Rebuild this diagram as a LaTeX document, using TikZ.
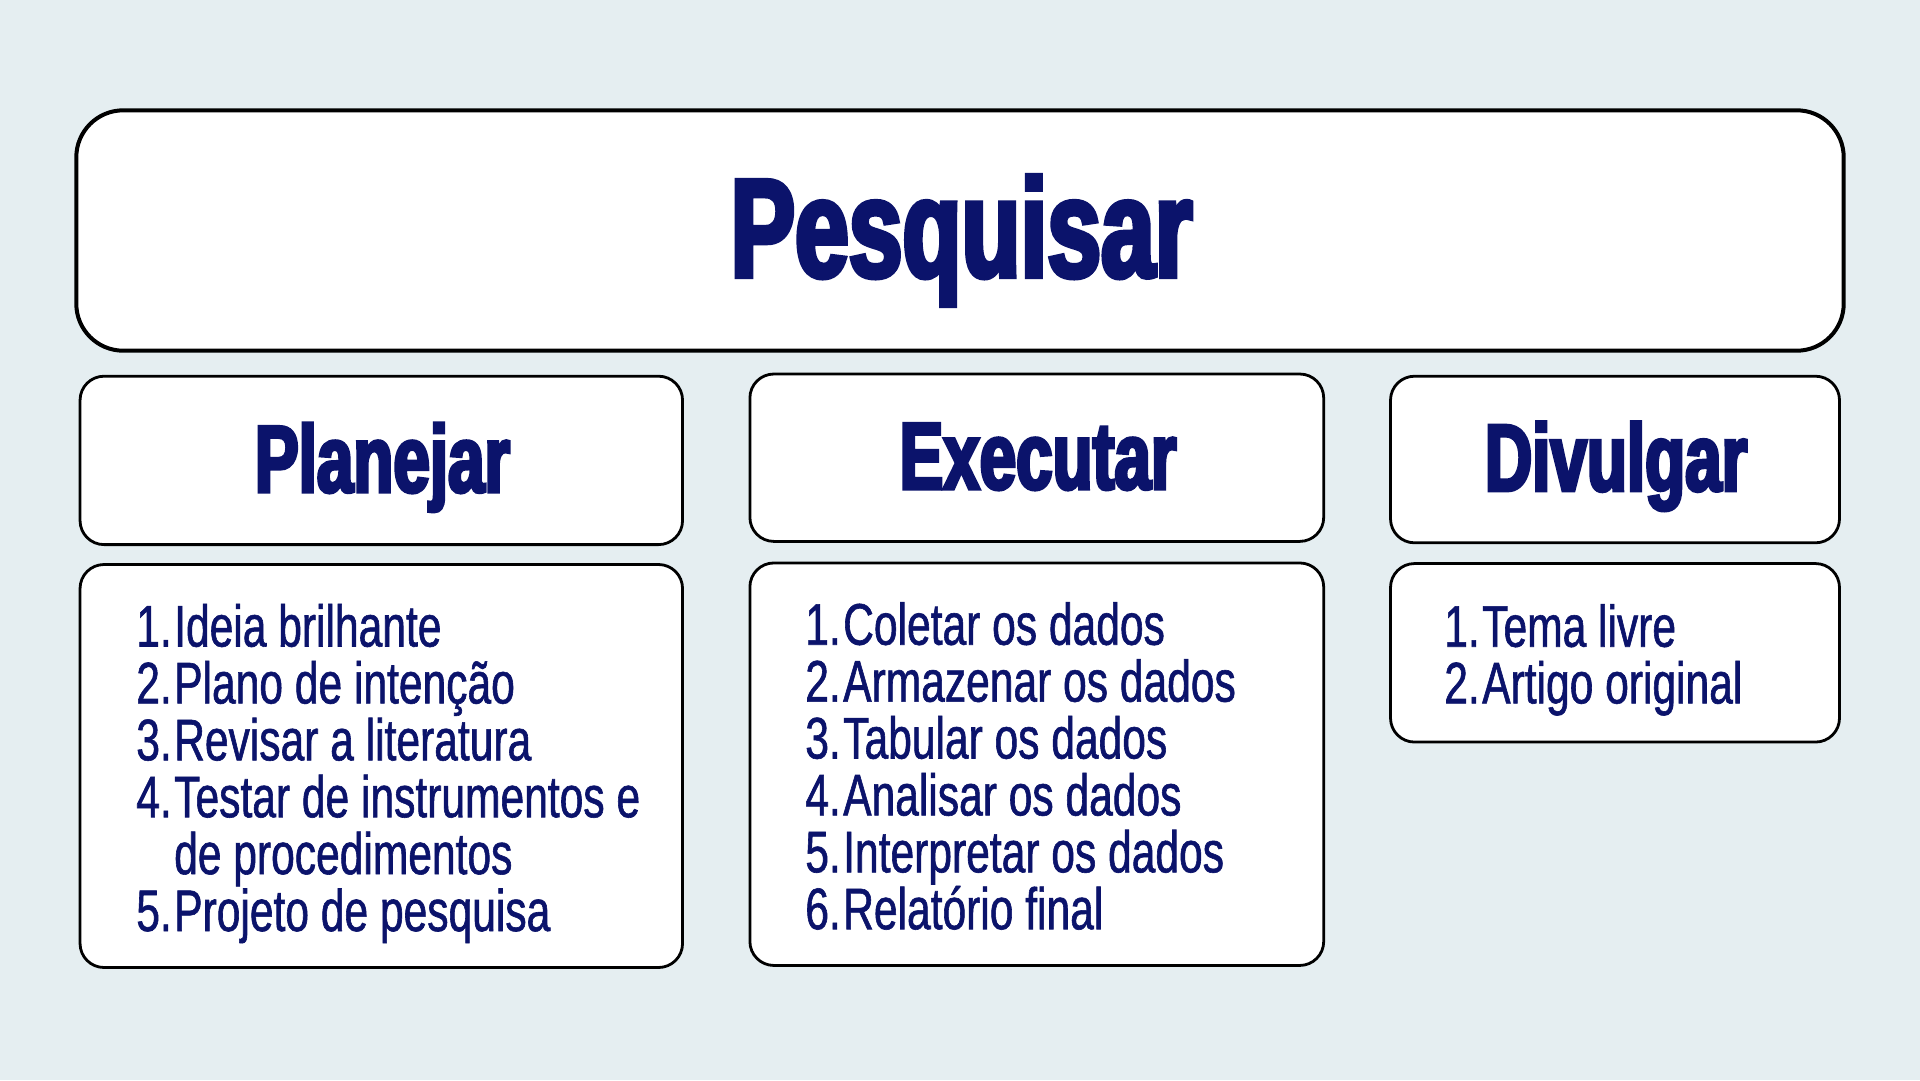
\documentclass[tikz,border=0pt]{standalone}
\usepackage{fontspec}
\newfontfamily\headfont[FakeStretch=0.69,BoldFeatures={FakeBold=3.5}]{Liberation Sans}
\newfontfamily\listfont[FakeStretch=0.725,FakeBold=1]{Liberation Sans}
\definecolor{navy}{RGB}{11,19,107}
\definecolor{bgc}{RGB}{229,238,241}
\begin{document}
\begin{tikzpicture}[x=1pt,y=-1pt,
  card/.style={draw=black,fill=white,line width=2.8pt,rounded corners=24pt,inner sep=0pt,outer sep=0pt},
  bigcard/.style={card,line width=4pt,rounded corners=47pt},
  htxt/.style={inner sep=0pt,text=navy,anchor=base,font=\headfont\bfseries\fontsize{95}{95}\selectfont},
  ttl/.style={htxt,font=\headfont\bfseries\fontsize{140}{140}\selectfont},
  num/.style={inner sep=0pt,text=navy,font=\listfont\fontsize{58.7}{58.7}\selectfont,anchor=base east},
  itm/.style={inner sep=0pt,text=navy,font=\listfont\fontsize{58.7}{58.7}\selectfont,anchor=base west}]
\fill[bgc] (0,0) rectangle (1920,1080);
\useasboundingbox (0,0) rectangle (1920,1080);
% title
\node[bigcard,minimum width=1767.4pt,minimum height=240.4pt] (topbox) at (960,230.5) {};
\node[ttl] (toptxt) at (961.5,276.7) {Pesquisar};
% headers
\node[card,minimum width=602.5pt,minimum height=168.4pt] (planh) at (381.3,460.4) {};
\node[htxt] (planhtxt) at (382.5,492) {Planejar};
\node[card,minimum width=573.8pt,minimum height=167.4pt] (exech) at (1036.8,457.7) {};
\node[htxt] (exechtxt) at (1038,489) {Executar};
\node[card,minimum width=449pt,minimum height=166.6pt] (divh) at (1615,459.5) {};
\node[htxt] (divhtxt) at (1616,490.7) {Divulgar};
% list boxes
\node[card,minimum width=602.5pt,minimum height=403pt] (planl) at (381.3,766) {};
\node[card,minimum width=573.8pt,minimum height=402.5pt] (execl) at (1036.8,764.2) {};
\node[card,minimum width=449pt,minimum height=178.5pt] (divl) at (1615,652.8) {};
% Planejar list
\node[num] (pn1) at (172,646.5) {1.};
\node[itm] (pt1) at (174,646.5) {Ideia brilhante};
\node[num] (pn2) at (172,703.4) {2.};
\node[itm] (pt2) at (174,703.4) {Plano de intenção};
\node[num] (pn3) at (172,760.3) {3.};
\node[itm] (pt3) at (174,760.3) {Revisar a literatura};
\node[num] (pn4) at (172,817.2) {4.};
\node[itm] (pt4) at (174,817.2) {Testar de instrumentos e};
\node[itm] (pt4b) at (174,874.1) {de procedimentos};
\node[num] (pn5) at (172,931) {5.};
\node[itm] (pt5) at (174,931) {Projeto de pesquisa};
% Executar list
\node[num] (en1) at (841,644.7) {1.};
\node[itm] (et1) at (843,644.7) {Coletar os dados};
\node[num] (en2) at (841,701.6) {2.};
\node[itm] (et2) at (843,701.6) {Armazenar os dados};
\node[num] (en3) at (841,758.5) {3.};
\node[itm] (et3) at (843,758.5) {Tabular os dados};
\node[num] (en4) at (841,815.4) {4.};
\node[itm] (et4) at (843,815.4) {Analisar os dados};
\node[num] (en5) at (841,872.3) {5.};
\node[itm] (et5) at (843,872.3) {Interpretar os dados};
\node[num] (en6) at (841,929.2) {6.};
\node[itm] (et6) at (843,929.2) {Relatório final};
% Divulgar list
\node[num] (dn1) at (1480,646.7) {1.};
\node[itm] (dt1) at (1482,646.7) {Tema livre};
\node[num] (dn2) at (1480,703.4) {2.};
\node[itm] (dt2) at (1482,703.4) {Artigo original};
\end{tikzpicture}
\end{document}
